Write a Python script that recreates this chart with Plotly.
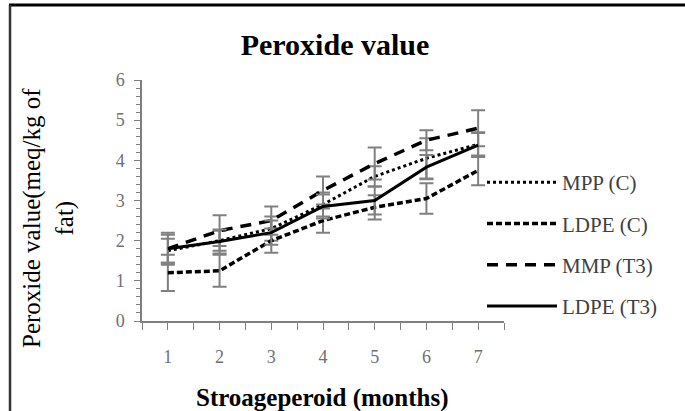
import plotly.graph_objects as go

months = [1, 2, 3, 4, 5, 6, 7]
mpp_c = [1.75, 2.0, 2.3, 2.9, 3.6, 4.05, 4.4]
mpp_c_err = [0.3, 0.25, 0.3, 0.3, 0.25, 0.5, 0.3]
ldpe_c = [1.2, 1.25, 2.0, 2.5, 2.83, 3.05, 3.75]
ldpe_c_err = [0.45, 0.4, 0.3, 0.3, 0.3, 0.38, 0.37]
mmp_t3 = [1.8, 2.25, 2.5, 3.25, 3.92, 4.5, 4.8]
mmp_t3_err = [0.4, 0.38, 0.35, 0.35, 0.4, 0.25, 0.45]
ldpe_t3 = [1.8, 1.98, 2.2, 2.85, 3.0, 3.83, 4.38]
ldpe_t3_err = [0.35, 0.3, 0.3, 0.3, 0.35, 0.3, 0.3]

series = [
    ("MPP (C)", mpp_c, mpp_c_err, "dot", 3),
    ("LDPE (C)", ldpe_c, ldpe_c_err, "6px,3px", 3.5),
    ("MMP (T3)", mmp_t3, mmp_t3_err, "11px,8px", 3.5),
    ("LDPE (T3)", ldpe_t3, ldpe_t3_err, "solid", 3),
]

SERIF = "Liberation Serif, Times New Roman, serif"
fig = go.Figure()
for i, (name, vals, err, dash, w) in enumerate(series):
    fig.add_trace(go.Scatter(
        x=months, y=vals, name=name, mode="lines",
        line=dict(color="black", width=w, dash=dash),
        error_y=dict(type="data", array=err, visible=True,
                     color="#808080", thickness=2, width=7),
        legendgroup=f"g{i}",
    ))

W, H = 685, 411
L, R, T, B = 142, 181, 80, 90
pw, ph = W - L - R, H - T - B

def px(x):
    return (x - L) / pw

def py(y):
    return (H - B - y) / ph

fig.update_layout(
    width=W, height=H,
    margin=dict(l=L, r=R, t=T, b=B, pad=0, autoexpand=False),
    paper_bgcolor="white", plot_bgcolor="white",
    font=dict(family=SERIF, color="#404040"),
    title=dict(text="<b>Peroxide value</b>", xref="container", x=335 / W,
               xanchor="center", y=1 - 44 / H, yanchor="middle",
               font=dict(family=SERIF, size=30, color="black")),
    showlegend=True,
    legend=dict(x=px(482), xanchor="left", y=py(162), yanchor="top",
                font=dict(family=SERIF, size=21, color="#404040"),
                itemwidth=70, tracegroupgap=11, bgcolor="rgba(0,0,0,0)"),
    xaxis=dict(range=[0.5, 7.5], tickvals=months, ticktext=[str(m) for m in months],
               automargin=False,
               showgrid=False, zeroline=False, showline=True, linecolor="#808080",
               linewidth=1.5, ticks="outside", ticklen=7, tickcolor="#808080",
               ticklabelstandoff=12,
               minor=dict(dtick=0.5, tick0=0.5, ticks="outside", ticklen=7, tickcolor="#808080"),
               tickfont=dict(family=SERIF, size=18, color="#707070")),
    yaxis=dict(range=[0, 6], dtick=1, showgrid=False, zeroline=False, showline=True,
               automargin=False,
               linecolor="#808080", linewidth=1.5, ticks="outside", ticklen=6,
               tickcolor="#808080", ticklabelstandoff=6,
               minor=dict(dtick=0.2, ticks="outside", ticklen=4, tickcolor="#808080"),
               tickfont=dict(family=SERIF, size=18, color="#707070")),
    annotations=[
        dict(text="Peroxide value(meq/kg of<br>fat)", textangle=-90,
             xref="paper", yref="paper", x=px(48), y=py(218),
             xanchor="center", yanchor="middle", showarrow=False,
             font=dict(family=SERIF, size=25, color="black")),
        dict(text="<b>Stroageperoid (months)</b>",
             xref="paper", yref="paper", x=px(322), y=py(398),
             xanchor="center", yanchor="middle", showarrow=False,
             font=dict(family=SERIF, size=25, color="black")),
    ],
    shapes=[
        dict(type="line", xref="paper", yref="paper", x0=px(9), x1=px(685),
             y0=py(5), y1=py(5), line=dict(color="black", width=3)),
        dict(type="line", xref="paper", yref="paper", x0=px(10), x1=px(10),
             y0=py(5), y1=py(411), line=dict(color="#333333", width=2.5)),
    ],
)

fig.write_html("out.html", config={"displayModeBar": False},
               post_script="document.body.style.margin='0';document.body.style.overflow='hidden';")
